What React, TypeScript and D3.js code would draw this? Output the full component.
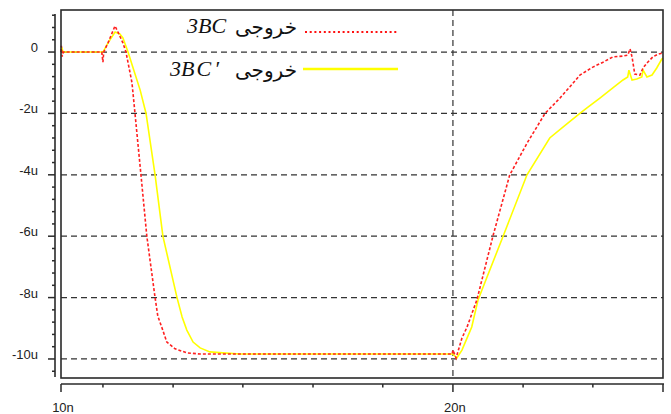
import React from "react";
import * as d3 from "d3";

// time in ns, value in µA (u)
const redT = [10.0, 10.01, 10.03, 10.06, 11.04, 11.07, 11.09, 11.2, 11.378, 11.454, 11.582, 11.658, 11.811, 11.888, 12.04, 12.19, 12.4, 12.47, 12.58, 12.7, 12.91, 13.21, 13.55, 16.0, 19.98, 20.0, 20.08, 20.23, 20.36, 20.61, 21.02, 21.45, 21.9, 22.35, 22.73, 22.98, 23.24, 23.57, 23.83, 24.08, 24.34, 24.46, 24.52, 24.57, 24.64, 24.77, 24.85, 24.97, 25.1, 25.23, 25.36];
const redV = [0.0, 0.2, -0.15, 0.0, 0.0, -0.33, 0.0, 0.3, 0.85, 0.65, 0.29, 0.0, -1.0, -2.0, -4.0, -6.0, -8.0, -8.6, -9.0, -9.45, -9.67, -9.8, -9.84, -9.84, -9.84, -9.71, -9.97, -9.32, -8.96, -8.08, -6.0, -4.0, -2.95, -2.0, -1.5, -1.14, -0.75, -0.49, -0.33, -0.16, -0.13, -0.1, 0.1, -0.16, -0.72, -0.75, -0.52, -0.33, -0.16, -0.07, -0.03];

const yelT = [10.0, 10.02, 10.05, 11.07, 11.2, 11.38, 11.5, 11.58, 11.71, 11.86, 12.02, 12.17, 12.4, 12.6, 12.96, 13.09, 13.21, 13.37, 13.55, 13.8, 14.13, 14.57, 17.0, 20.0, 20.1, 20.23, 20.36, 20.48, 20.64, 21.28, 21.89, 22.47, 22.9, 23.24, 23.42, 23.75, 24.08, 24.34, 24.46, 24.49, 24.57, 24.69, 24.82, 24.85, 24.95, 25.08, 25.2, 25.33, 25.36];
const yelV = [0.0, 0.15, 0.0, 0.0, 0.3, 0.65, 0.59, 0.46, 0.0, -0.6, -1.24, -2.0, -4.0, -6.0, -8.0, -8.63, -9.06, -9.45, -9.64, -9.77, -9.8, -9.84, -9.84, -9.84, -9.97, -9.71, -9.32, -8.96, -8.08, -6.0, -4.0, -2.8, -2.35, -2.0, -1.82, -1.5, -1.17, -0.91, -0.81, -0.59, -0.91, -0.88, -0.81, -0.59, -0.81, -0.75, -0.52, -0.23, -0.2];

const yMajorTicks = [0, -2, -4, -6, -8, -10];
const yTickLabels = ["0", "-2u", "-4u", "-6u", "-8u", "-10u"];
const yMinorTicks = [1.2, 0.8, 0.4, -0.4, -0.8, -1.2, -1.6, -2.4, -2.8, -3.2, -3.6, -4.4, -4.8, -5.2, -5.6, -6.4, -6.8, -7.2, -7.6, -8.4, -8.8, -9.2, -9.6, -10.4];
const xMajorTicks = [10, 20, 25.36];
const xTickLabels = ["10n", "20n", ""];
const xMinorTicks = [11.07, 12.86, 14.64, 16.43, 18.21, 21.79, 23.57];
const legendNames = ["خروجی", "خروجی"];

export default function App() {
  const W = 671, H = 414;
  const left = 61, right = 663, top = 10, bottom = 378;
  const x = d3.scaleLinear().domain([10, 25.36]).range([left, right]);
  const y = d3.scaleLinear().domain([-10.62, 1.37]).range([bottom, top]);

  const line = (ts: number[], vs: number[]) =>
    d3.line<number>().x((_, i) => x(ts[i])).y((_, i) => y(vs[i]))(ts) || "";

  const axisColor = "#2a2a2a";
  const gridColor = "#333";
  const yAxisX = 55;
  const xAxisY = 384;

  return (
    <svg width={W} height={H} style={{ position: "absolute", left: 0, top: 0, background: "#fff" }}
      fontFamily="'Liberation Sans', Arial, sans-serif">
      <rect x={0} y={0} width={W} height={H} fill="#fff" />
      {/* grid */}
      {yMajorTicks.map((v) => (
        <line key={"g" + v} x1={left} x2={right} y1={y(v)} y2={y(v)} stroke={gridColor}
          strokeWidth={1.2} strokeDasharray="6,4" />
      ))}
      <line x1={x(20)} x2={x(20)} y1={top} y2={bottom} stroke={gridColor} strokeWidth={1.2} strokeDasharray="6,4" />

      {/* series */}
      <path d={line(yelT, yelV)} fill="none" stroke="#ffff00" strokeWidth={1.6} />
      <path d={line(redT, redV)} fill="none" stroke="#ff2020" strokeWidth={1.6} strokeDasharray="3,2" />

      {/* frame */}
      <rect x={left} y={top} width={right - left} height={bottom - top} fill="none" stroke={axisColor} strokeWidth={1.6} />

      {/* y axis */}
      <line x1={yAxisX} x2={yAxisX} y1={y(1.24)} y2={377} stroke={axisColor} strokeWidth={1.6} />
      {yMinorTicks.map((v) => (
        <line key={"ym" + v} x1={yAxisX - 3} x2={yAxisX} y1={y(v)} y2={y(v)} stroke={axisColor} strokeWidth={1.5} />
      ))}
      {yMajorTicks.map((v, i) => (
        <g key={"yM" + v}>
          <line x1={yAxisX - 7} x2={yAxisX} y1={y(v)} y2={y(v)} stroke={axisColor} strokeWidth={1.5} />
          <text x={38} y={y(v)} textAnchor="end" fontSize={13} fill="#222">{yTickLabels[i]}</text>
        </g>
      ))}

      {/* x axis */}
      <line x1={left} x2={right + 1} y1={xAxisY} y2={xAxisY} stroke={axisColor} strokeWidth={1.6} />
      {xMinorTicks.map((v) => (
        <line key={"xm" + v} x1={x(v)} x2={x(v)} y1={xAxisY} y2={xAxisY + 3.5} stroke={axisColor} strokeWidth={1.5} />
      ))}
      {xMajorTicks.map((v, i) => (
        <g key={"xM" + v}>
          <line x1={x(v)} x2={x(v)} y1={xAxisY} y2={xAxisY + 8} stroke={axisColor} strokeWidth={1.5} />
          <text x={x(v) + 2} y={412} textAnchor="middle" fontSize={13} fill="#222">{xTickLabels[i]}</text>
        </g>
      ))}

      {/* legend */}
      <text x={187} y={33} fontFamily="'Liberation Serif', 'Times New Roman', serif" fontStyle="italic" fontSize={22} fill="#111">3BC</text>
      <text x={297} y={34} textAnchor="end" fontFamily="'DejaVu Sans', sans-serif" fontSize={20} fill="#111">{legendNames[0]}</text>
      <line x1={305} x2={398} y1={32} y2={32} stroke="#ff1010" strokeWidth={2} strokeDasharray="2,2.7" />

      <text x={170} y={76} fontFamily="'Liberation Serif', 'Times New Roman', serif" fontStyle="italic" fontSize={22} fill="#111">
        3B<tspan dx={2}>C</tspan><tspan dx={3}>′</tspan>
      </text>
      <text x={297} y={77} textAnchor="end" fontFamily="'DejaVu Sans', sans-serif" fontSize={20} fill="#111">{legendNames[1]}</text>
      <line x1={303} x2={398} y1={69} y2={69} stroke="#ffff00" strokeWidth={2.5} />
    </svg>
  );
}
